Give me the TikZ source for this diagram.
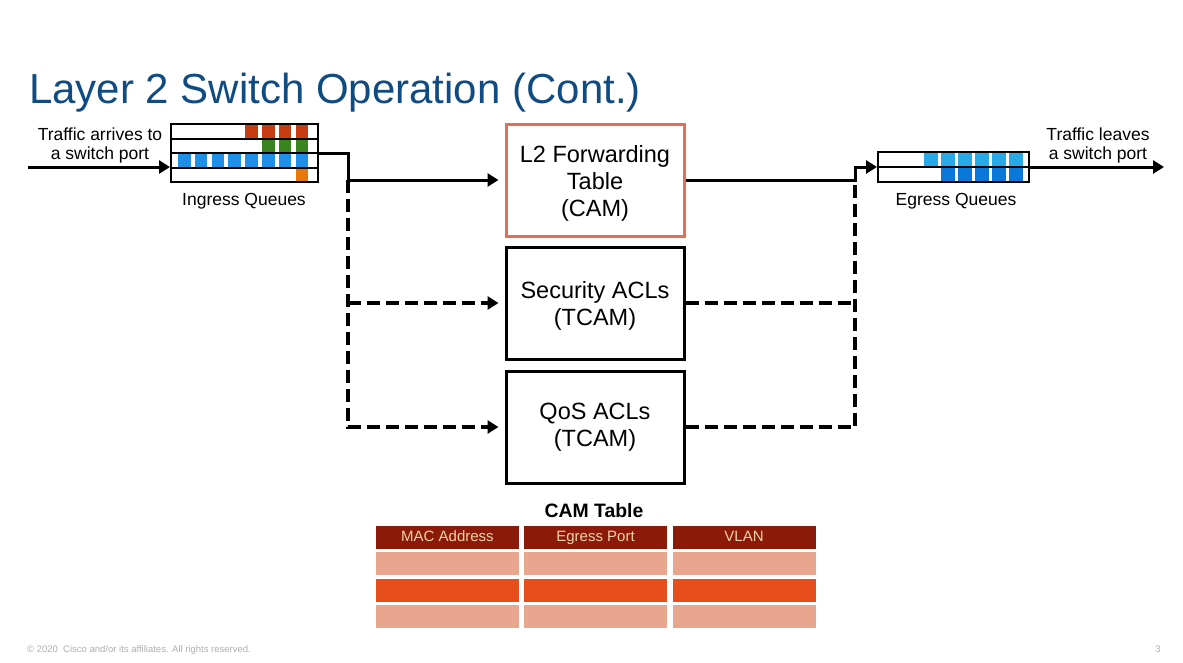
\documentclass[tikz,border=0pt]{standalone}
\usepackage{fontspec}
\setmainfont{Liberation Sans}
\usetikzlibrary{arrows.meta}
\definecolor{titleblue}{RGB}{16,76,130}
\definecolor{l2red}{RGB}{224,110,88}
\definecolor{qred}{RGB}{200,60,20}
\definecolor{qgreen}{RGB}{56,132,30}
\definecolor{qblue}{RGB}{30,144,232}
\definecolor{qorange}{RGB}{232,120,12}
\definecolor{elight}{RGB}{40,170,232}
\definecolor{edark}{RGB}{10,120,216}
\definecolor{thead}{RGB}{140,26,8}
\definecolor{theadtext}{RGB}{240,210,168}
\definecolor{tlight}{RGB}{232,166,142}
\definecolor{tmid}{RGB}{230,78,28}
\definecolor{footgray}{RGB}{175,175,175}
\begin{document}
\begin{tikzpicture}[x=1pt,y=-1pt,
  lbl/.style={font=\fontsize{17.5}{19}\selectfont, inner sep=0, align=center},
  qbox/.style={draw=black, line width=2pt, inner sep=0},
  fwbox/.style={draw, line width=3pt, inner sep=0, minimum width=178, minimum height=112,
    align=center, font=\fontsize{23.5}{27}\selectfont},
  conn/.style={line width=3pt},
  dconn/.style={line width=4pt, dash pattern=on 13pt off 6pt},
  tip/.style={-{Triangle[length=11pt,width=13pt]}},
  cell/.style={inner sep=0, minimum width=143, minimum height=23, text height=11pt, text depth=3pt, font=\fontsize{15}{17}\selectfont}
]
\useasboundingbox (0,0) rectangle (1183,662);
\fill[white] (0,0) rectangle (1183,662);

% title
\node[anchor=base west, inner sep=0, font=\fontsize{42}{50}\selectfont, text=titleblue] (title) at (29,103) {Layer 2 Switch Operation (Cont.)};

% ingress queue cells
\foreach \i in {4,...,7} \fill[qred] ({178+16.8*\i},124) rectangle ++(12.5,14.5);
\foreach \i in {5,...,7} \fill[qgreen] ({178+16.8*\i},138.5) rectangle ++(12.5,14.5);
\foreach \i in {0,...,7} \fill[qblue] ({178+16.8*\i},153) rectangle ++(12.5,14.5);
\fill[qorange] ({178+16.8*7},167.5) rectangle ++(12.5,14.5);
\node[qbox, minimum width=147, minimum height=58] (ing) at (244.5,153) {};
\draw[line width=2pt] (ing.west |- 0,138.5) -- (ing.east |- 0,138.5)
  (ing.west) -- (ing.east)
  (ing.west |- 0,167.5) -- (ing.east |- 0,167.5);

% egress queue cells
\foreach \i in {0,...,5} \fill[elight] ({924+17*\i},152) rectangle ++(14,15);
\foreach \i in {1,...,5} \fill[edark] ({924+17*\i},167) rectangle ++(14,15);
\node[qbox, minimum width=151, minimum height=30] (eg) at (953.5,167) {};
\draw[line width=2pt] (eg.west) -- (eg.east);

% labels
\node[lbl] (tin) at (100,145) {Traffic arrives to\\a switch port};
\node[lbl] (tout) at (1098,145) {Traffic leaves\\a switch port};
\node[lbl, anchor=base] (ingl) at (244,205) {Ingress Queues};
\node[lbl, anchor=base] (egl) at (956,205) {Egress Queues};

% forwarding boxes
\node[fwbox, draw=l2red] (l2) at (595,180) {\rule{0pt}{23pt}L2 Forwarding\\Table\\(CAM)};
\node[fwbox, draw=black] (sec) at (595,303) {\rule{0pt}{23pt}Security ACLs\\(TCAM)};
\node[fwbox, draw=black] (qos) at (595,427) {QoS ACLs\\(TCAM)};

% connectors
\coordinate (inl) at (28,167);
\coordinate (jl) at (348,180);
\coordinate (jr) at (855,180);
\coordinate (outr) at (1164,167);
\draw[conn, tip] (inl) -- (inl -| ing.west);
\draw[dconn, tip, shorten >=6pt] (jl) -- (jl |- qos.west) -- (qos.west);
\draw[dconn, tip, shorten >=6pt] (jl |- sec.west) -- (sec.west);
\draw[dconn] (qos.east) -- (qos.east -| jr) -- (jr);
\draw[dconn] (sec.east) -- (sec.east -| jr);
\draw[conn, tip, shorten >=6pt] (ing.east) -| (jl) -- (l2.west);
\draw[conn, tip] (l2.east) -- (jr) |- (eg.west);
\draw[conn, tip] (eg.east) -- (outr);

% CAM table
\node[anchor=base, inner sep=0, font=\bfseries\fontsize{19.4}{22}\selectfont] (camt) at (594,517) {CAM Table};
\node[cell, fill=thead, text=theadtext] (h1) at (447.5,537.5) {MAC Address};
\node[cell, fill=thead, text=theadtext] (h2) at (595.5,537.5) {Egress Port};
\node[cell, fill=thead, text=theadtext] (h3) at (744,537.5) {VLAN};
\foreach \y/\c/\n in {563.5/tlight/a, 590.5/tmid/b, 616.5/tlight/c}{
  \node[cell, fill=\c] (r\n1) at (447.5,\y) {};
  \node[cell, fill=\c] (r\n2) at (595.5,\y) {};
  \node[cell, fill=\c] (r\n3) at (744,\y) {};
}

% footer
\node[anchor=base west, inner sep=0, font=\fontsize{9.5}{11}\selectfont, text=footgray] (foot) at (27,652) {© 2020~ Cisco and/or its affiliates. All rights reserved.};
\node[anchor=base, inner sep=0, font=\fontsize{9.5}{11}\selectfont, text=footgray] (pg) at (1158,652) {3};
\end{tikzpicture}
\end{document}
